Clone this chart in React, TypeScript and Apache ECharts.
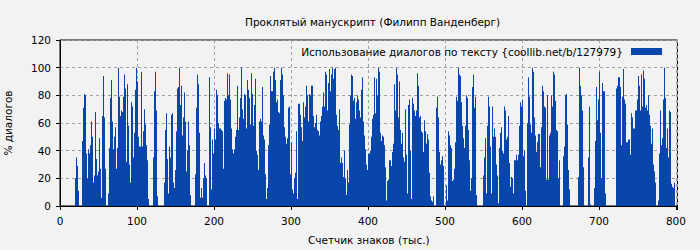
import React, { useEffect, useRef } from "react";
import * as echarts from "echarts";

const TITLE = "Проклятый манускрипт (Филипп Ванденберг)";
const SERIES_NAME = "Использование диалогов по тексту {coollib.net/b/127979}";
const X_NAME = "Счетчик знаков (тыс.)";
const Y_NAME = "% диалогов";

const X_TICK_STEP = 100;
const X_MAX = 802;
const Y_TICK_STEP = 20;
const Y_MAX = 120;

// first sample position and spacing, in thousands of characters
const SAMPLE_START = 20.13;
const SAMPLE_STEP = 1.2988;

// % of dialogue per sample
const part1 = [
  20, 35, 29, 11, 0, 0, 0, 47, 71, 81, 80, 38, 20, 41, 38, 44, 61, 50, 17, 22, 68, 34, 22, 25, 49, 27, 6, 65, 94, 64, 27, 0, 0,
  9, 42, 78, 91, 61, 41, 50, 57, 27, 42, 100, 79, 65, 69, 68, 79, 95, 85, 32, 88, 58, 30, 17, 75, 72, 35, 53, 84, 100, 90, 50, 43,
];
const part2 = [
  43, 97, 43, 54, 70, 59, 44, 33, 5, 0, 0, 0, 0, 35, 83, 97, 69, 7, 0, 0, 0, 0, 0, 0,
  17, 55, 67, 34, 9, 43, 35, 66, 67, 17, 13, 26, 54, 85, 86, 100, 73, 87, 51, 64, 82, 61, 25, 40, 61, 44, 8,
  0, 0, 0, 0, 23, 71, 95, 88, 53, 6, 13, 6, 20, 31, 22, 20, 0, 0, 93, 57, 12, 48, 38, 56, 48, 84, 80, 60, 56,
];
const part3 = [
  56, 55, 54, 27, 76, 78, 77, 96, 80, 95, 77, 56, 41, 38, 41, 50, 55, 87, 55, 64,
  78, 100, 70, 63, 81, 80, 56, 91, 84, 78, 59, 96, 81, 58, 73, 92, 40, 37, 26, 61,
  63, 61, 86, 51, 48, 23, 5, 13, 44, 59, 94, 83, 83, 97, 100, 91, 75, 77, 68, 67,
  91, 100, 95, 80, 57, 50, 45, 49, 71, 72, 23, 46, 12, 9, 20, 24, 54, 5, 74, 74,
];
const part4 = [
  66, 57, 47, 75, 64, 72, 87, 80, 61, 81, 80, 87, 87, 65, 57, 60, 66, 55, 54, 51,
  61, 65, 72, 82, 72, 97, 95, 69, 89, 99, 83, 95, 100, 92, 99, 100, 66, 58, 55, 70,
  31, 35, 31, 21, 40, 20, 8, 26, 17, 59, 80, 95, 94, 76, 78, 63, 75, 80, 77, 69,
  64, 84, 93, 61, 51, 41, 30, 26, 38, 38, 40, 50, 63, 66, 93, 67, 92, 80, 100, 97,
];
const part5 = [
  53, 47, 51, 50, 44, 28, 4, 18, 19, 33, 33, 29, 39, 45, 88, 69, 100, 95, 64, 90,
  55, 45, 53, 35, 32, 70, 37, 9, 73, 77, 40, 5, 78, 74, 69, 65, 69, 96, 87, 64,
  65, 54, 53, 39, 62, 54, 45, 52, 48, 24, 7, 4, 3, 7, 0, 0, 71, 79, 64, 39,
  30, 33, 36, 29, 0, 0, 15, 4, 54, 51, 44, 42, 18, 19, 27, 46, 79, 76, 100, 95,
];
const part6 = [
  94, 75, 58, 49, 42, 58, 80, 78, 55, 33, 11, 20, 86, 95, 71, 79, 8, 0, 0, 0,
  0, 0, 0, 22, 35, 49, 9, 58, 79, 72, 43, 9, 72, 50, 56, 50, 30, 22, 2, 42,
  53, 57, 40, 38, 72, 69, 48, 50, 65, 31, 14, 21, 20, 9, 33, 33, 37, 33, 37, 58,
  75, 72, 77, 36, 40, 11, 0, 60, 93, 79, 59, 53, 100, 97, 64, 51, 39, 46, 52, 52,
];
const part7 = [
  28, 57, 87, 83, 72, 71, 19, 80, 19, 51, 53, 80, 72, 97, 95, 76, 55, 54, 20, 33,
  0, 0, 0, 36, 43, 80, 81, 59, 26, 12, 0, 0, 0, 0, 0, 0, 0, 0, 21, 100,
  87, 80, 69, 28, 0, 0, 0, 0, 35, 72, 1, 0, 0, 0, 13, 47, 86, 62, 77, 97,
  53, 20, 89, 83, 83, 9, 0, 0, 0, 0, 0, 0, 0, 0, 0, 0, 85, 87, 93, 93,
];
const part8 = [
  86, 44, 79, 99, 77, 74, 46, 46, 48, 48, 37, 67, 64, 56, 56, 69, 69, 77, 94, 87,
  69, 95, 72, 98, 92, 71, 73, 69, 80, 66, 58, 45, 56, 30, 25, 17, 0, 0, 4, 38,
  69, 44, 49, 77, 100, 78, 42, 56, 35, 69, 68, 16, 14, 13, 17,
];

const dialogShare = [...part1, ...part2, ...part3, ...part4, ...part5, ...part6, ...part7, ...part8];

const FONT = "DejaVu Sans";
const FONT_SIZE = 10.5;
const BAR_COLOR = "#0846ab";

export default function App() {
  const ref = useRef<HTMLDivElement>(null);

  useEffect(() => {
    if (!ref.current) return;
    const chart = echarts.init(ref.current, undefined, { renderer: "svg" });
    const data = dialogShare.map((v, i) => [SAMPLE_START + i * SAMPLE_STEP, v]);
    chart.setOption({
      animation: false,
      backgroundColor: "#f2f2f2",
      textStyle: { fontFamily: FONT },
      title: {
        text: TITLE,
        left: 240,
        top: 11,
        textStyle: { fontFamily: FONT, fontSize: FONT_SIZE, fontWeight: "normal", color: "#000" },
      },
      legend: {
        right: 33,
        top: 41,
        align: "right",
        itemWidth: 31,
        itemHeight: 7,
        icon: "rect",
        textStyle: { fontFamily: FONT, fontSize: FONT_SIZE, color: "#000", padding: [0, 3, 0, 0] },
        data: [SERIES_NAME],
      },
      grid: {
        left: 60,
        right: 22.5,
        top: 40,
        bottom: 44,
        containLabel: false,
        outerBoundsMode: "none",
        show: true,
        borderColor: "#000",
        borderWidth: 1,
        backgroundColor: "transparent",
      },
      xAxis: {
        type: "value",
        min: 0,
        max: X_MAX,
        interval: X_TICK_STEP,
        name: X_NAME,
        nameLocation: "middle",
        nameGap: 28,
        nameTextStyle: { fontFamily: FONT, fontSize: FONT_SIZE, color: "#000" },
        axisLine: { lineStyle: { color: "#000", width: 1 } },
        axisTick: { show: true, inside: false, length: 4, lineStyle: { color: "#000" } },
        axisLabel: {
          color: "#000",
          fontFamily: FONT,
          fontSize: FONT_SIZE,
          margin: 9,
          formatter: (v: number) => (v % X_TICK_STEP === 0 ? String(v) : ""),
        },
        splitLine: { show: true, lineStyle: { color: "#a0a0a0", type: [3, 3], width: 1 } },
      },
      yAxis: {
        type: "value",
        min: 0,
        max: Y_MAX,
        interval: Y_TICK_STEP,
        name: Y_NAME,
        nameLocation: "middle",
        nameGap: 47,
        nameRotate: 90,
        nameTextStyle: { fontFamily: FONT, fontSize: FONT_SIZE, color: "#000" },
        axisLine: { show: true, lineStyle: { color: "#000", width: 1 } },
        axisTick: { show: true, inside: false, length: 4, lineStyle: { color: "#000" } },
        axisLabel: { color: "#000", fontFamily: FONT, fontSize: FONT_SIZE, margin: 9 },
        splitLine: { show: true, lineStyle: { color: "#a0a0a0", type: [3, 3], width: 1 } },
      },
      series: [
        {
          name: SERIES_NAME,
          type: "bar",
          data,
          barWidth: 1,
          itemStyle: { color: BAR_COLOR },
        },
      ],
    });
    return () => chart.dispose();
  }, []);

  return <div ref={ref} style={{ position: "fixed", left: 0, top: 0, width: 700, height: 250 }} />;
}
